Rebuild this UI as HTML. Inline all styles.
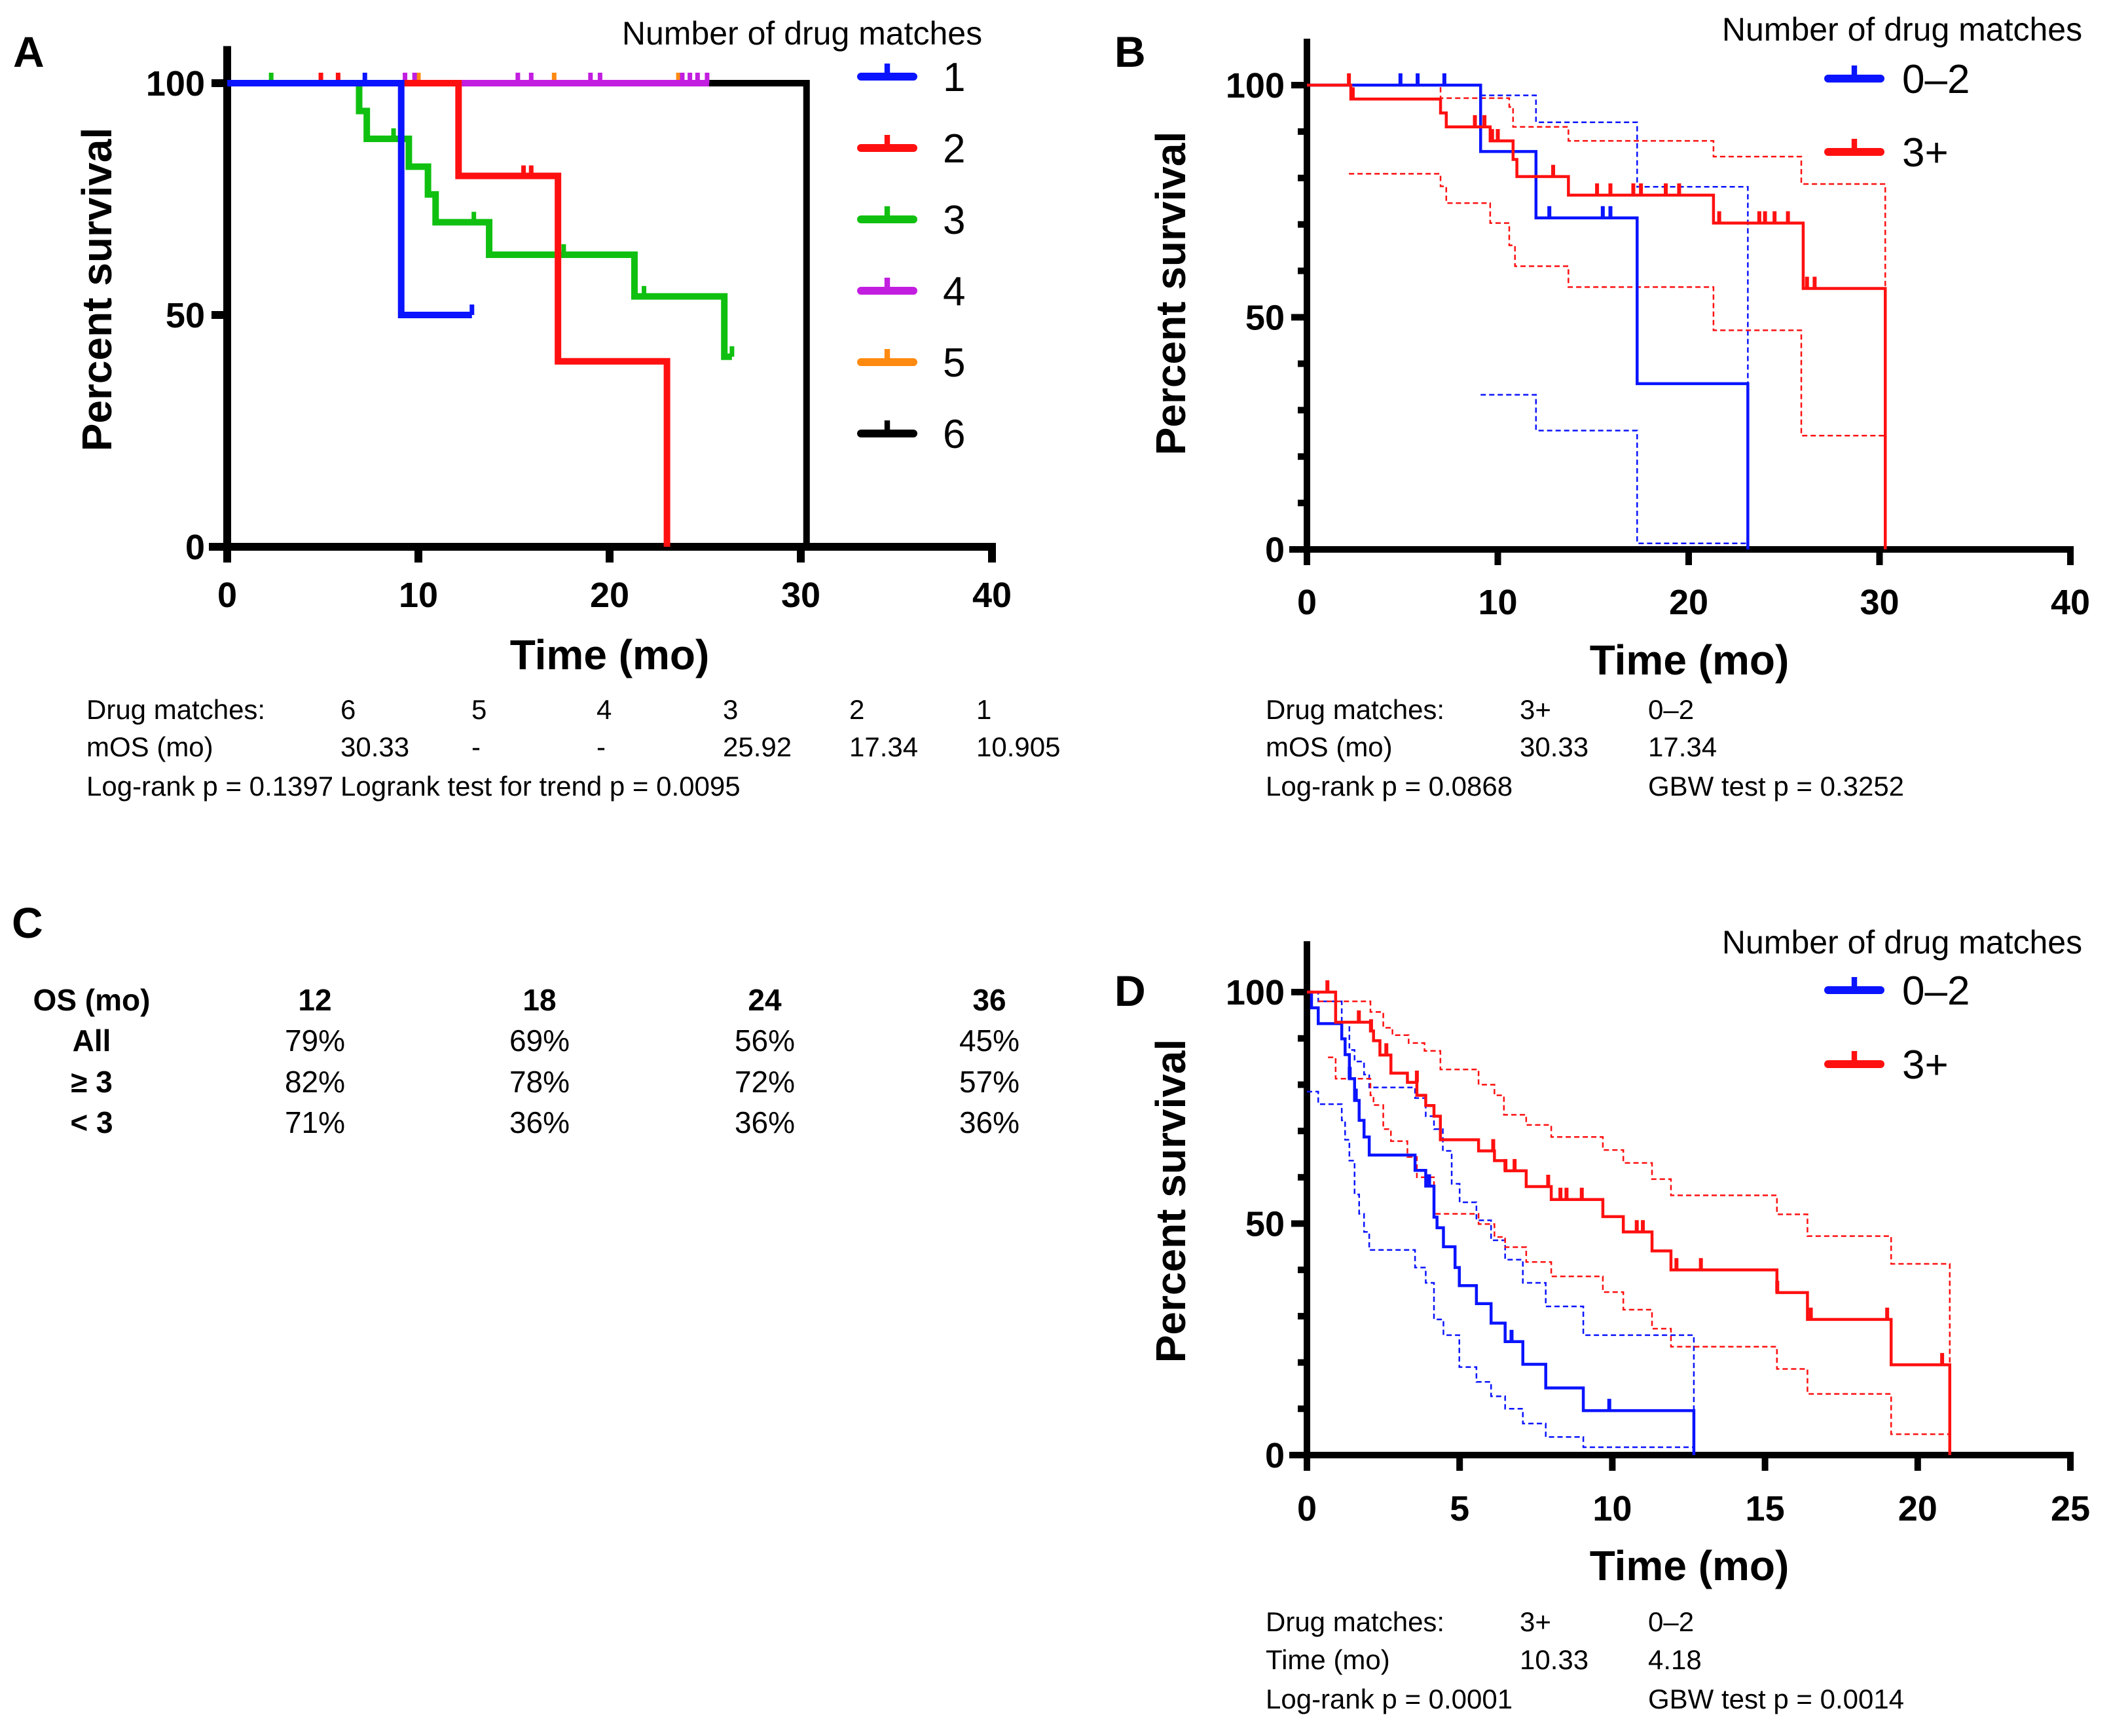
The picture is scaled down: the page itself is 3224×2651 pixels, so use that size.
<!DOCTYPE html>
<html><head><meta charset="utf-8"><style>
html,body{margin:0;padding:0;background:#fff}
svg text{font-family:"Liberation Sans",sans-serif}
</style></head><body>
<svg id="fig" xmlns="http://www.w3.org/2000/svg" width="3224" height="2646" viewBox="0 0 3224 2646">
<rect width="3224" height="2646" fill="#fff"/>
<g id="pA"></g>
<g id="pB"></g>
<g id="pD"></g>
<g id="pC">
<text x="18" y="1432" font-size="66" font-weight="bold">C</text>
<g font-size="46" font-weight="bold" text-anchor="middle">
<text x="140" y="1543">OS (mo)</text>
<text x="481" y="1543">12</text>
<text x="824" y="1543">18</text>
<text x="1168" y="1543">24</text>
<text x="1511" y="1543">36</text>
<text x="140" y="1605">All</text>
<text x="140" y="1668">≥ 3</text>
<text x="140" y="1730">&lt; 3</text>
</g>
<g font-size="46" text-anchor="middle">
<text x="481" y="1605">79%</text>
<text x="824" y="1605">69%</text>
<text x="1168" y="1605">56%</text>
<text x="1511" y="1605">45%</text>
<text x="481" y="1668">82%</text>
<text x="824" y="1668">78%</text>
<text x="1168" y="1668">72%</text>
<text x="1511" y="1668">57%</text>
<text x="481" y="1730">71%</text>
<text x="824" y="1730">36%</text>
<text x="1168" y="1730">36%</text>
<text x="1511" y="1730">36%</text>
</g>
</g>
</svg>
<script>
// ---------- Panel A data ----------
const aXTicks = [0, 10, 20, 30, 40];
const aYTicks = [0, 50, 100];
const aLegendLabels = ["1", "2", "3", "4", "5", "6"];
const a1Start = 0, a1End = 12.8;
const a1StepT = [9.1];
const a1StepS = [50];
const a1CensT = [7.2, 12.8];
const a1CensS = [100, 50];
const a2Start = 0, a2End = 23.0;
const a2StepT = [12.1, 17.3, 23.0];
const a2StepS = [80, 40, 0];
const a2CensT = [4.9, 5.8, 15.5, 15.9];
const a2CensS = [100, 100, 80, 80];
const a3Start = 0, a3End = 26.4;
const a3StepT = [6.9, 7.3, 9.5, 10.5, 10.9, 13.7, 21.3, 26.0];
const a3StepS = [94, 88, 82, 76, 70, 63, 54, 41];
const a3CensT = [2.3, 8.7, 12.9, 17.6, 21.8, 26.4];
const a3CensS = [100, 88, 70, 63, 54, 41];
const a4Start = 0, a4End = 25.2;
const a4StepT = [];
const a4StepS = [];
const a4CensT = [9.3, 9.8, 15.2, 15.9, 19.0, 19.5, 23.8, 24.2, 24.6, 25.1];
const a4CensS = [100, 100, 100, 100, 100, 100, 100, 100, 100, 100];
const a5Start = 0, a5End = 23.6;
const a5StepT = [];
const a5StepS = [];
const a5CensT = [10.0, 17.1, 23.6];
const a5CensS = [100, 100, 100];
const a6Start = 0, a6End = 30.3;
const a6StepT = [30.3];
const a6StepS = [0];
// ---------- Panel B data ----------
const bXTicks = [0, 10, 20, 30, 40];
const bYTicks = [0, 50, 100];
const bLowStepT = [9.1, 12.0, 17.3, 23.1];
const bLowStepS = [85.7, 71.4, 35.7, 0];
const bLowCensT = [4.9, 5.8, 7.2, 12.7, 15.5, 15.9];
const bLowCensS = [100, 100, 100, 71.4, 71.4, 71.4];
const bLowUpT = [12.0, 17.3, 23.1];
const bLowUpS = [92, 78.1, 1.3];
const bLowUpStart = [9.1, 97.8];
const bLowLoT = [12.0, 17.3];
const bLowLoS = [25.6, 1.3];
const bLowLoStart = [9.1, 33.3];
const bHiStepT = [2.3, 7.0, 7.3, 9.6, 10.8, 11.0, 13.7, 21.3, 26.0, 30.3];
const bHiStepS = [97, 94, 91, 88, 84, 80.3, 76.3, 70.3, 56.2, 0];
const bHiCensT = [2.2, 2.4, 8.8, 9.3, 9.7, 10.0, 12.9, 15.2, 15.9, 17.1, 17.5, 18.8, 19.5, 21.6, 23.7, 24.0, 24.5, 25.2, 26.2, 26.6];
const bHiCensS = [100, 97, 91, 91, 88, 88, 80.3, 76.3, 76.3, 76.3, 76.3, 76.3, 76.3, 70.3, 70.3, 70.3, 70.3, 70.3, 56.2, 56.2];
const bHiUpT = [7.0, 10.6, 10.8, 13.7, 21.3, 25.9, 30.3];
const bHiUpS = [97.2, 95.3, 91, 88, 84.6, 78.7, 56];
const bHiUpStart = [2.2, 100];
const bHiLoT = [7.0, 7.3, 9.6, 10.6, 10.9, 13.7, 21.3, 25.9];
const bHiLoS = [78.2, 74.6, 70.3, 65.5, 61, 56.5, 47.2, 24.5];
const bHiLoStart = [2.2, 80.9];
// ---------- Panel D data ----------
const dXTicks = [0, 5, 10, 15, 20, 25];
const dYTicks = [0, 50, 100];
const dLowStepT = [0.15, 0.37, 1.14, 1.25, 1.39, 1.56, 1.71, 1.87, 2.04, 3.54, 3.89, 4.16, 4.26, 4.47, 4.85, 4.99, 5.55, 6.03, 6.49, 7.07, 7.82, 9.05, 12.67];
const dLowStepS = [96.6, 93.2, 89.9, 86.5, 81.3, 76.6, 72.3, 68.7, 64.8, 61.5, 58.1, 51.4, 49.1, 45.0, 40.5, 36.6, 32.7, 28.5, 24.5, 19.6, 14.5, 9.6, 0];
const dLowCensT = [1.4, 1.6, 4.0, 6.7, 9.9];
const dLowCensS = [81.3, 76.6, 58.1, 24.5, 9.6];
const dLowUpT = [0.37, 1.14, 1.39, 1.56, 1.87, 2.04, 3.54, 3.89, 4.16, 4.45, 4.74, 5.0, 5.55, 6.03, 6.49, 7.07, 7.82, 9.05, 12.67];
const dLowUpS = [98, 93.5, 87.5, 85, 82.2, 79.4, 77.1, 73.2, 70.4, 65.7, 58.6, 54.6, 50.7, 46.4, 42.2, 37.2, 32.1, 25.9, 0];
const dLowUpStart = [0, 100];
const dLowLoT = [0.37, 1.14, 1.25, 1.39, 1.56, 1.71, 1.87, 2.04, 3.54, 3.89, 4.16, 4.47, 4.99, 5.55, 6.03, 6.49, 7.07, 7.82, 9.05];
const dLowLoS = [75.8, 72.3, 68.1, 63.6, 56.3, 52.1, 48.2, 44.3, 40.5, 37.2, 29.3, 25.9, 19.0, 15.8, 12.7, 10.0, 6.8, 3.9, 1.7];
const dLowLoStart = [0, 78.5];
const dHiStepT = [0.94, 2.08, 2.18, 2.39, 2.75, 3.29, 3.6, 3.89, 4.16, 4.37, 5.62, 6.14, 6.49, 7.18, 8.0, 9.69, 10.36, 11.3, 11.92, 15.39, 16.39, 19.13, 21.05];
const dHiStepS = [93.5, 91.6, 89.5, 86.4, 82.5, 80.5, 77.7, 75.5, 73.2, 68.1, 65.7, 63.6, 61.4, 58.0, 55.2, 51.5, 48.2, 44.1, 40.0, 35.1, 29.3, 19.5, 0];
const dHiCensT = [0.67, 1.7, 2.1, 2.6, 3.6, 6.1, 6.5, 6.8, 7.9, 8.3, 8.5, 9.0, 10.8, 11.0, 12.1, 12.9, 15.4, 16.5, 19.0, 20.8];
const dHiCensS = [100, 93.5, 91.6, 86.4, 80.5, 65.7, 61.4, 61.4, 58.0, 55.2, 55.2, 55.2, 48.2, 48.2, 40.0, 40.0, 35.1, 29.3, 29.3, 19.5];
const dHiUpT = [2.08, 2.5, 2.8, 3.33, 3.85, 4.37, 5.62, 6.14, 6.45, 7.18, 8.0, 9.69, 10.36, 11.3, 11.92, 15.39, 16.39, 19.13, 21.05];
const dHiUpS = [95.7, 92.3, 90.7, 89.0, 87.3, 83.3, 80.0, 77.7, 73.5, 71.3, 68.7, 65.9, 63.1, 59.6, 56.1, 52.0, 47.3, 41.3, 0];
const dHiUpStart = [0.37, 98];
const dHiLoT = [0.94, 2.08, 2.18, 2.5, 2.75, 3.29, 3.6, 4.16, 5.62, 6.14, 6.49, 7.18, 8.0, 9.69, 10.36, 11.3, 11.92, 15.39, 16.39, 19.13];
const dHiLoS = [81.3, 77.7, 75.6, 70.4, 67.8, 64.4, 60.0, 52.1, 49.9, 47.1, 44.9, 41.7, 38.6, 35.2, 31.4, 27.3, 23.4, 18.6, 13.2, 4.5];
const dHiLoStart = [0.69, 85.9];

const NS = "http://www.w3.org/2000/svg";
function mk(parent, tag, attrs, txt) {
  const e = document.createElementNS(NS, tag);
  for (const k in attrs) e.setAttribute(k, attrs[k]);
  if (txt !== undefined) e.textContent = txt;
  parent.appendChild(e);
  return e;
}
function axes(g, o) {
  const sx = t => o.x0 + (o.x1 - o.x0) * t / o.xmax;
  const sy = v => o.y0 + (o.y100 - o.y0) * v / 100;
  const lw = o.axisW;
  const ya = mk(g, "line", {x1: o.x0, y1: sy(o.ytop), x2: o.x0, y2: o.y0 + lw / 2, stroke: "#000", "stroke-width": lw});
  
  
  const xa = mk(g, "line", {x1: o.x0 - lw / 2 - 22, y1: o.y0, x2: o.x1 + lw / 2, y2: o.y0, stroke: "#000", "stroke-width": lw});
  
  
  o.xTicks.forEach(t => {
    const tk = mk(g, "line", {x1: sx(t), y1: o.y0, x2: sx(t), y2: o.y0 + 24, stroke: "#000", "stroke-width": lw});
    
    
    const lb = mk(g, "text", {x: sx(t), y: o.tickY, "font-size": 54, "font-weight": "bold", "text-anchor": "middle"}, String(t));
    
    
  });
  if (o.minor) {
    for (let v = 10; v <= 100; v += 10) {
      if (v === 50 || v === 100) continue;
      const mt = mk(g, "line", {x1: o.x0 - 14, y1: sy(v), x2: o.x0, y2: sy(v), stroke: "#000", "stroke-width": lw});
      
      
    }
  }
  o.yTicks.forEach(v => {
    const tk = mk(g, "line", {x1: o.x0 - 24, y1: sy(v), x2: o.x0, y2: sy(v), stroke: "#000", "stroke-width": lw});
    
    
    const lb = mk(g, "text", {x: o.x0 - 34, y: sy(v) + 19, "font-size": 54, "font-weight": "bold", "text-anchor": "end"}, String(v));
    
    
  });
  const xt = mk(g, "text", {x: o.xTitleX, y: o.xTitleY, "font-size": 64, "font-weight": "bold", "text-anchor": "middle"}, "Time (mo)");
  
  
  const yt = mk(g, "text", {x: 0, y: 0, "font-size": 64, "font-weight": "bold", "text-anchor": "middle", transform: "translate(" + o.yTitleX + "," + o.yTitleY + ") rotate(-90)"}, "Percent survival");
  
  
  const pl = mk(g, "text", {x: o.labX, y: o.labY, "font-size": 66, "font-weight": "bold"}, o.lab);
  
  
  return {sx, sy};
}
function km(g, ax, start, startLevel, end, T, S, color, w, dash, name) {
  let d = "M" + ax.sx(start) + " " + ax.sy(startLevel);
  for (let i = 0; i < T.length; i++) d += " H" + ax.sx(T[i]) + " V" + ax.sy(S[i]);
  d += " H" + ax.sx(end);
  const p = mk(g, "path", {d: d, fill: "none", stroke: color, "stroke-width": w, "stroke-dasharray": dash || "none", "stroke-linejoin": "miter", "stroke-linecap": "butt"});
  
  
}
function cens(g, ax, T, S, color, w, h, name) {
  for (let i = 0; i < T.length; i++) {
    const c = mk(g, "line", {x1: ax.sx(T[i]), y1: ax.sy(S[i]), x2: ax.sx(T[i]), y2: ax.sy(S[i]) - h, stroke: color, "stroke-width": w});
    
    
  }
}
function legend(g, title, tx, ty, labels, colors, lx1, lx2, ys, labX, lw) {
  const t = mk(g, "text", {x: tx, y: ty, "font-size": 50, "text-anchor": "middle"}, title);
  
  
  labels.forEach((lab, i) => {
    const ln = mk(g, "line", {x1: lx1, y1: ys[i], x2: lx2, y2: ys[i], stroke: colors[i], "stroke-width": lw, "stroke-linecap": "round"});
    
    
    const tk = mk(g, "line", {x1: (lx1 + lx2) / 2, y1: ys[i], x2: (lx1 + lx2) / 2, y2: ys[i] - 20, stroke: colors[i], "stroke-width": lw * 0.7});
    
    
    const tx2 = mk(g, "text", {x: labX, y: ys[i] + 22, "font-size": 62}, lab);
    
    
  });
}
function stats(g, rows, xs, ys) {
  rows.forEach((r, i) => r.forEach((c, j) => {
    const t = mk(g, "text", {x: xs[j], y: ys[i], "font-size": 42}, c);
    
    
  }));
}
const BLUE = "#0a14ff", RED = "#ff1010", GREEN = "#10c010", PURP = "#c21ee0", ORNG = "#ff8a10";

// Panel A
(function () {
  const g = document.getElementById("pA");
  const ax = axes(g, {x0: 347, x1: 1515, xmax: 40, y0: 835, y100: 127, ytop: 108, axisW: 12, xTicks: aXTicks, yTicks: aYTicks, minor: false,
    tickY: 927, xTitleX: 931, xTitleY: 1022, yTitleX: 170, yTitleY: 442, labX: 20, labY: 102, lab: "A"});
  km(g, ax, a6Start, 100, a6End, a6StepT, a6StepS, "#000", 10, null, "series-6-curve");
  km(g, ax, a5Start, 100, a5End, a5StepT, a5StepS, ORNG, 10, null, "series-5-curve");
  cens(g, ax, a5CensT, a5CensS, ORNG, 7, 16, "series-5-censor");
  km(g, ax, a4Start, 100, a4End, a4StepT, a4StepS, PURP, 10, null, "series-4-curve");
  cens(g, ax, a4CensT, a4CensS, PURP, 7, 16, "series-4-censor");
  km(g, ax, a3Start, 100, a3End, a3StepT, a3StepS, GREEN, 10, null, "series-3-curve");
  cens(g, ax, a3CensT, a3CensS, GREEN, 7, 16, "series-3-censor");
  km(g, ax, a2Start, 100, a2End, a2StepT, a2StepS, RED, 10, null, "series-2-curve");
  cens(g, ax, a2CensT, a2CensS, RED, 7, 16, "series-2-censor");
  km(g, ax, a1Start, 100, a1End, a1StepT, a1StepS, BLUE, 10, null, "series-1-curve");
  cens(g, ax, a1CensT, a1CensS, BLUE, 7, 16, "series-1-censor");
  legend(g, "Number of drug matches", 1225, 68, aLegendLabels, [BLUE, RED, GREEN, PURP, ORNG, "#000"], 1315, 1395, [117, 226, 335, 444, 553, 662], 1440, 12);
  stats(g, [["Drug matches:", "6", "5", "4", "3", "2", "1"], ["mOS (mo)", "30.33", "-", "-", "25.92", "17.34", "10.905"], ["Log-rank p = 0.1397", "Logrank test for trend p = 0.0095"]],
    [132, 520, 720, 911, 1104, 1297, 1491], [1098, 1155, 1215]);
})();

// Panel B
(function () {
  const g = document.getElementById("pB");
  const ax = axes(g, {x0: 1996, x1: 3162, xmax: 40, y0: 839, y100: 130, ytop: 110, axisW: 10, xTicks: bXTicks, yTicks: bYTicks, minor: true,
    tickY: 938, xTitleX: 2580, xTitleY: 1030, yTitleX: 1810, yTitleY: 448, labX: 1702, labY: 102, lab: "B"});
  km(g, ax, bLowUpStart[0], bLowUpStart[1], bLowUpT[bLowUpT.length - 1], bLowUpT, bLowUpS, BLUE, 2.5, "8 5", "low-group-upper-ci");
  km(g, ax, bLowLoStart[0], bLowLoStart[1], 23.1, bLowLoT, bLowLoS, BLUE, 2.5, "8 5", "low-group-lower-ci");
  km(g, ax, bHiUpStart[0], bHiUpStart[1], 30.3, bHiUpT, bHiUpS, RED, 2.5, "8 5", "high-group-upper-ci");
  km(g, ax, bHiLoStart[0], bHiLoStart[1], 30.3, bHiLoT, bHiLoS, RED, 2.5, "8 5", "high-group-lower-ci");
  km(g, ax, 0, 100, 23.1, bLowStepT, bLowStepS, BLUE, 4.5, null, "low-group-curve");
  cens(g, ax, bLowCensT, bLowCensS, BLUE, 6, 18, "low-group-censor");
  km(g, ax, 0, 100, 30.3, bHiStepT, bHiStepS, RED, 4.5, null, "high-group-curve");
  cens(g, ax, bHiCensT, bHiCensS, RED, 6, 18, "high-group-censor");
  legend(g, "Number of drug matches", 2905, 62, ["0–2", "3+"], [BLUE, RED], 2792, 2872, [120, 232], 2905, 12);
  stats(g, [["Drug matches:", "3+", "0–2"], ["mOS (mo)", "30.33", "17.34"], ["Log-rank p = 0.0868", "", "GBW test p = 0.3252"]],
    [1933, 2321, 2517], [1098, 1155, 1215]);
})();

// Panel D
(function () {
  const g = document.getElementById("pD");
  const ax = axes(g, {x0: 1996, x1: 3162, xmax: 25, y0: 2222, y100: 1515, ytop: 111, axisW: 10, xTicks: dXTicks, yTicks: dYTicks, minor: true,
    tickY: 2322, xTitleX: 2580, xTitleY: 2413, yTitleX: 1810, yTitleY: 1834, labX: 1702, labY: 1536, lab: "D"});
  km(g, ax, dLowUpStart[0], dLowUpStart[1], 12.67, dLowUpT, dLowUpS, BLUE, 2.5, "8 5", "low-group-upper-ci");
  km(g, ax, dLowLoStart[0], dLowLoStart[1], 12.67, dLowLoT, dLowLoS, BLUE, 2.5, "8 5", "low-group-lower-ci");
  km(g, ax, dHiUpStart[0], dHiUpStart[1], 21.05, dHiUpT, dHiUpS, RED, 2.5, "8 5", "high-group-upper-ci");
  km(g, ax, dHiLoStart[0], dHiLoStart[1], 21.05, dHiLoT, dHiLoS, RED, 2.5, "8 5", "high-group-lower-ci");
  km(g, ax, 0, 100, 12.67, dLowStepT, dLowStepS, BLUE, 4.5, null, "low-group-curve");
  cens(g, ax, dLowCensT, dLowCensS, BLUE, 6, 18, "low-group-censor");
  km(g, ax, 0, 100, 21.05, dHiStepT, dHiStepS, RED, 4.5, null, "high-group-curve");
  cens(g, ax, dHiCensT, dHiCensS, RED, 6, 18, "high-group-censor");
  legend(g, "Number of drug matches", 2905, 1456, ["0–2", "3+"], [BLUE, RED], 2792, 2872, [1512, 1625], 2905, 12);
  stats(g, [["Drug matches:", "3+", "0–2"], ["Time (mo)", "10.33", "4.18"], ["Log-rank p = 0.0001", "", "GBW test p = 0.0014"]],
    [1933, 2321, 2517], [2491, 2549, 2609]);
})();
</script>
</body></html>
